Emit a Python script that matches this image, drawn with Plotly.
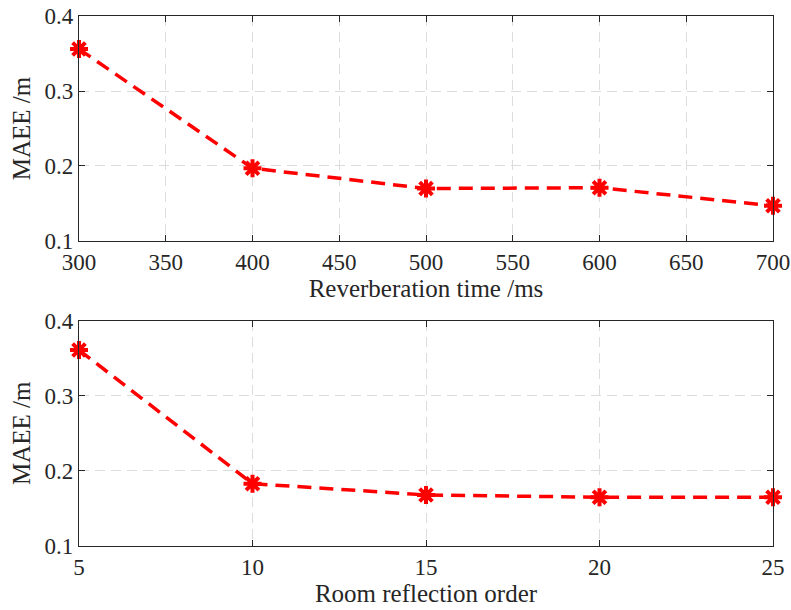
import plotly.graph_objects as go
from plotly.subplots import make_subplots

reverb_time = [300, 400, 500, 600, 700]
maee_reverb = [0.356, 0.197, 0.170, 0.171, 0.147]

reflection_order = [5, 10, 15, 20, 25]
maee_order = [0.361, 0.183, 0.168, 0.165, 0.165]

fig = make_subplots(rows=2, cols=1, vertical_spacing=0.15)

line_style = dict(color="#ff0000", width=3.5, dash="14px,8px")
marker_style = dict(symbol="asterisk-open", size=15, color="#ff0000",
                    line=dict(color="#ff0000", width=4))

fig.add_trace(go.Scatter(x=reverb_time, y=maee_reverb, mode="lines+markers",
                         line=line_style, marker=marker_style, showlegend=False,
                         cliponaxis=False),
              row=1, col=1)
fig.add_trace(go.Scatter(x=reflection_order, y=maee_order, mode="lines+markers",
                         line=line_style, marker=marker_style, showlegend=False,
                         cliponaxis=False),
              row=2, col=1)

FAM = "Liberation Serif"
COL = "#262626"
tick_font = dict(family=FAM, size=23, color=COL)
title_font = dict(family=FAM, size=25, color=COL)

axis_common = dict(showline=True, linecolor=COL, linewidth=1.3, mirror="ticks",
                   ticks="inside", ticklen=6, tickcolor=COL, tickwidth=1,
                   showgrid=True, gridcolor="#dcdcdc", gridwidth=1, griddash="10px,6px",
                   zeroline=False, tickfont=tick_font, automargin=True)

fig.update_xaxes(**axis_common)
fig.update_yaxes(**axis_common)

fig.update_xaxes(range=[300, 700], tickvals=[300, 350, 400, 450, 500, 550, 600, 650, 700],
                 title=dict(text="Reverberation time /ms", font=title_font, standoff=5),
                 domain=[0, 1], row=1, col=1)
fig.update_xaxes(range=[5, 25], tickvals=[5, 10, 15, 20, 25],
                 title=dict(text="Room reflection order", font=title_font, standoff=5),
                 domain=[0, 1], row=2, col=1)
fig.update_yaxes(range=[0.1, 0.4], tickvals=[0.1, 0.2, 0.3, 0.4], tickformat=".1f",
                 title=dict(text="MAEE /m", font=title_font, standoff=6),
                 domain=[0.5755, 1], row=1, col=1)
fig.update_yaxes(range=[0.1, 0.4], tickvals=[0.1, 0.2, 0.3, 0.4], tickformat=".1f",
                 title=dict(text="MAEE /m", font=title_font, standoff=6),
                 domain=[0, 0.425], row=2, col=1)

fig.update_layout(width=791, height=610, margin=dict(l=79, r=18, t=16, b=64, autoexpand=False),
                  paper_bgcolor="white", plot_bgcolor="white",
                  font=dict(family=FAM, size=23, color=COL))

fig.write_html("out.html")
